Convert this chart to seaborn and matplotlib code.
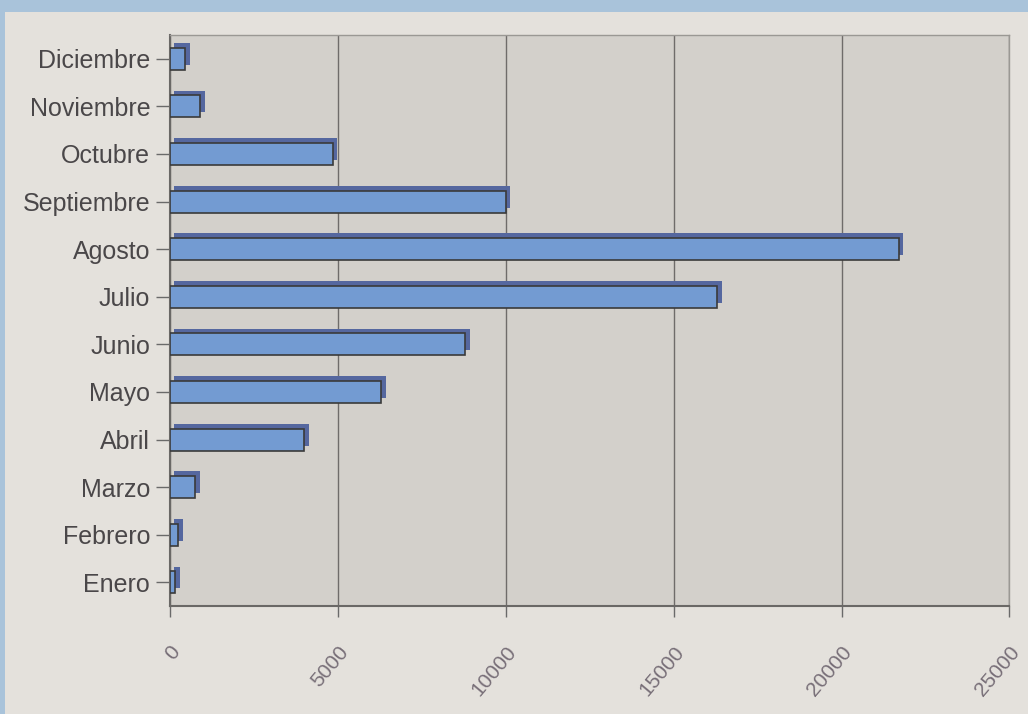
# monthly totals as a horizontal bar chart, styled after the old excel 3d look

import matplotlib.pyplot as plt
import matplotlib.patheffects as pe
from matplotlib.patches import Rectangle
import pandas as pd
import seaborn as sns

months = ['Enero', 'Febrero', 'Marzo', 'Abril', 'Mayo', 'Junio',
          'Julio', 'Agosto', 'Septiembre', 'Octubre', 'Noviembre', 'Diciembre']
values = [150, 250, 750, 4000, 6300, 8800, 16300, 21700, 10000, 4850, 900, 450]
x_ticks = [0, 5000, 10000, 15000, 20000, 25000]

df = pd.DataFrame({'mes': months, 'valor': values})

sns.set_theme(style='white')
plt.rcParams['font.family'] = ['Liberation Sans', 'DejaVu Sans']

fig = plt.figure(figsize=(10.28, 7.14), dpi=100)
fig.patch.set_facecolor('#a9c3da')
# grey panel over the blue frame
fig.patches.append(Rectangle((5 / 1028, 0), 1, 1 - 12 / 714, transform=fig.transFigure,
                             facecolor='#e4e1dc', edgecolor='none', zorder=-5))

ax = fig.add_axes([0.165, 0.151, 0.817, 0.8])
ax.set_facecolor('#d3d0cb')

sns.barplot(data=df, x='valor', y='mes', order=months[::-1], orient='h',
            color='#739bd2', saturation=1, width=0.46,
            edgecolor='#3a3a3a', linewidth=1.2, ax=ax, zorder=3)

# fake depth: dark blue offset shadow up and to the right
for bar in ax.patches:
    bar.set_path_effects([pe.SimplePatchShadow(offset=(3.5, 3.5), shadow_rgbFace='#55679f', alpha=1),
                          pe.Normal()])

ax.set_xlim(0, 25000)
ax.set_xticks(x_ticks)
ax.set_xticklabels([str(t) for t in x_ticks], rotation=50, ha='right', va='top',
                   rotation_mode='anchor', fontsize=15, color='#786f78')
ax.tick_params(axis='y', labelsize=18, labelcolor='#4a4749', length=10, width=1,
               color='#6a6a6a', direction='out', left=True, pad=4)
ax.tick_params(axis='x', length=8, width=1, color='#6a6a6a', direction='out',
               bottom=True, pad=18)
ax.xaxis.grid(True, color='#6f6c6a', linewidth=1)
ax.set_axisbelow(True)
ax.set_xlabel('')
ax.set_ylabel('')

for side in ['top', 'right']:
    ax.spines[side].set_color('#9a9894')
    ax.spines[side].set_linewidth(1)
for side in ['left', 'bottom']:
    ax.spines[side].set_color('#6a6866')
    ax.spines[side].set_linewidth(1.5)

plt.savefig('out.png', dpi=100, facecolor=fig.get_facecolor())
